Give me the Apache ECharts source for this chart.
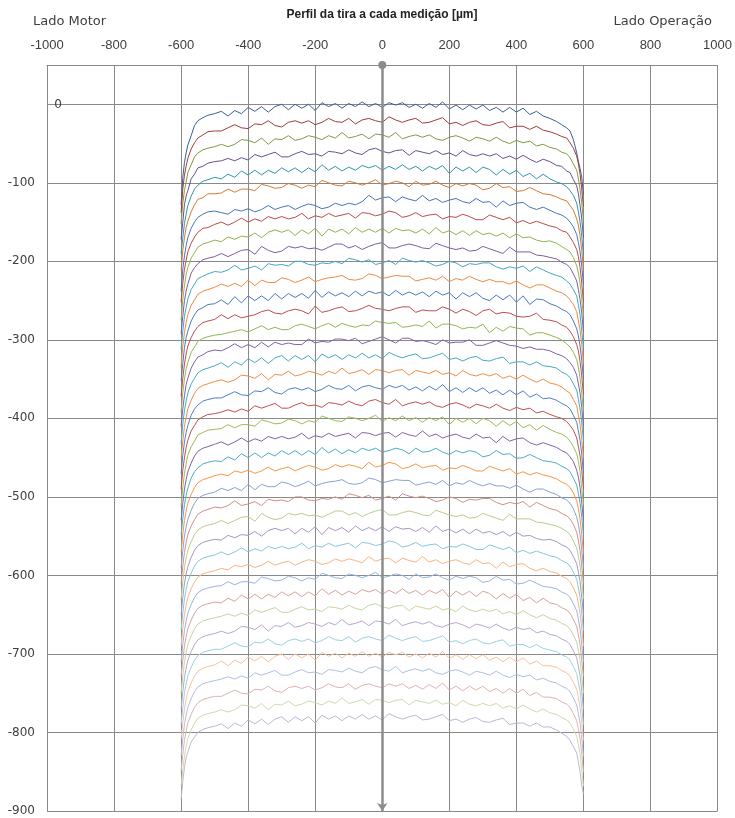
<!DOCTYPE html>
<html>
<head>
<meta charset="utf-8">
<script src="https://cdn.jsdelivr.net/npm/echarts/dist/echarts.min.js"></script>
<style>html,body{margin:0;padding:0;background:#fff;}#chart{width:735px;height:818px;}</style>
</head>
<body>
<div id="chart"></div>
<script>
// x positions across the strip width (µm), shared by every measurement profile
const xPositions = [-600,-595,-590,-585,-580,-570,-560,-550,-535,-520,-500,
-480,-460,-440,-420,-400,-380,-360,-340,-320,-300,-280,-260,-240,-220,-200,-180,-160,-140,-120,-100,-80,-60,-40,-20,0,20,40,60,80,100,120,140,160,180,200,220,240,260,280,300,320,340,360,380,400,420,440,460,480,
500,520,535,550,560,570,580,585,590,595,600];

const xTickLabels = [-1000,-800,-600,-400,-200,0,200,400,600,800,1000];
const yTickLabels = [0,-100,-200,-300,-400,-500,-600,-700,-800,-900];

const p00 = [-128,-93,-74,-62,-52,-40,-27,-21,-17,-14,-12, -9,-15,-8,-12,-4,-9,-3,-10,-3,0,-7,0,-5,0,-8,2,-3,1,-5,1,-3,3,-3,1,-4,2,-1,2,-4,0,-5,1,-4,3,-6,-1,-7,-1,-6,-1,-8,-4,-10,-4,-10,-5,-13,-9,-15, -18,-22,-26,-30,-34,-45,-62,-73,-82,-93,-115];
const p01 = [-138,-108,-90,-79,-69,-57,-49,-43,-39,-35,-34, -34,-30,-26,-30,-31,-25,-26,-21,-27,-29,-23,-21,-24,-21,-26,-23,-18,-22,-23,-18,-25,-20,-18,-21,-23,-16,-20,-23,-20,-18,-24,-23,-20,-17,-25,-23,-27,-23,-21,-26,-27,-24,-22,-30,-28,-28,-32,-28,-33, -35,-38,-41,-43,-49,-56,-66,-76,-89,-108,-130];
const p02 = [-152,-126,-110,-99,-87,-77,-67,-62,-58,-56,-54, -51,-54,-51,-45,-46,-49,-43,-51,-44,-45,-40,-46,-44,-40,-42,-45,-40,-43,-36,-43,-41,-38,-44,-38,-39,-42,-36,-44,-41,-39,-42,-39,-44,-46,-42,-40,-43,-47,-42,-44,-47,-42,-47,-50,-46,-49,-47,-53,-51, -55,-57,-61,-63,-68,-76,-84,-95,-109,-126,-148];
const p03 = [-172,-150,-128,-117,-110,-95,-89,-81,-79,-75,-73, -72,-69,-72,-68,-71,-64,-67,-64,-61,-67,-67,-63,-60,-64,-63,-66,-60,-61,-63,-58,-62,-64,-58,-56,-60,-62,-59,-58,-65,-59,-61,-63,-59,-64,-62,-66,-59,-64,-66,-63,-66,-63,-69,-66,-70,-65,-70,-74,-70, -73,-78,-79,-85,-87,-96,-104,-114,-129,-146,-170];
const p04 = [-190,-170,-152,-140,-129,-117,-108,-103,-98,-96,-93, -95,-89,-93,-85,-90,-84,-90,-84,-88,-81,-86,-81,-87,-81,-86,-77,-84,-79,-85,-80,-84,-78,-81,-78,-84,-79,-83,-77,-83,-79,-85,-79,-83,-78,-88,-80,-85,-80,-87,-80,-83,-90,-83,-89,-84,-92,-88,-95,-89, -95,-99,-101,-105,-110,-116,-126,-137,-150,-168,-192];
const p05 = [-212,-186,-170,-157,-149,-137,-128,-121,-119,-114,-114, -113,-108,-112,-108,-108,-110,-102,-104,-107,-106,-101,-103,-107,-103,-105,-97,-100,-103,-104,-98,-100,-103,-100,-96,-103,-101,-98,-100,-105,-98,-103,-102,-98,-103,-106,-101,-104,-101,-103,-109,-107,-101,-106,-105,-111,-110,-106,-110,-114, -115,-118,-121,-123,-129,-135,-146,-154,-168,-186,-210];
const p06 = [-238,-210,-193,-180,-170,-158,-150,-144,-140,-137,-136, -138,-140,-134,-136,-133,-137,-134,-129,-134,-131,-129,-134,-130,-127,-129,-133,-131,-126,-129,-126,-128,-124,-116,-122,-119,-118,-124,-118,-121,-123,-116,-123,-120,-125,-122,-120,-124,-126,-120,-125,-124,-131,-123,-129,-126,-125,-131,-134,-131, -135,-139,-141,-145,-150,-156,-166,-176,-188,-206,-230];
const p07 = [-252,-228,-210,-199,-188,-177,-169,-163,-158,-157,-153, -150,-154,-150,-145,-150,-146,-149,-143,-146,-143,-146,-144,-139,-146,-142,-144,-139,-143,-141,-139,-145,-138,-139,-142,-140,-136,-138,-144,-142,-138,-143,-141,-140,-146,-143,-144,-140,-143,-147,-147,-141,-144,-147,-144,-151,-148,-152,-149,-152, -155,-157,-161,-163,-169,-176,-185,-194,-208,-228,-252];
const p08 = [-275,-249,-231,-217,-208,-196,-189,-182,-178,-176,-173, -175,-169,-172,-168,-169,-164,-170,-163,-160,-163,-160,-167,-160,-165,-158,-168,-159,-163,-159,-165,-157,-163,-159,-163,-158,-164,-158,-161,-160,-164,-159,-165,-157,-164,-161,-166,-161,-167,-161,-166,-164,-168,-164,-170,-165,-170,-169,-173,-175, -174,-177,-181,-185,-188,-195,-206,-215,-228,-248,-270];
const p09 = [-292,-270,-250,-238,-229,-215,-208,-203,-198,-196,-194, -190,-194,-190,-186,-185,-191,-181,-186,-189,-187,-181,-183,-181,-184,-183,-186,-182,-178,-178,-183,-180,-185,-181,-178,-176,-183,-183,-180,-178,-180,-183,-184,-177,-180,-183,-185,-183,-187,-186,-181,-184,-187,-190,-182,-188,-188,-188,-192,-193, -195,-197,-201,-204,-208,-216,-225,-236,-249,-266,-290];
const p10 = [-312,-289,-270,-259,-248,-236,-229,-222,-219,-216,-213, -214,-211,-205,-211,-209,-206,-211,-203,-205,-204,-206,-200,-200,-204,-205,-202,-203,-200,-203,-196,-198,-201,-198,-204,-202,-199,-204,-196,-199,-201,-199,-202,-206,-204,-200,-202,-207,-203,-204,-202,-202,-207,-210,-207,-209,-206,-213,-207,-211, -215,-218,-220,-225,-229,-236,-244,-256,-268,-289,-310];
const p11 = [-335,-308,-291,-278,-268,-256,-249,-242,-238,-236,-233, -229,-232,-228,-232,-224,-231,-224,-227,-227,-221,-223,-227,-224,-220,-226,-223,-221,-220,-218,-223,-224,-222,-216,-218,-222,-220,-218,-219,-219,-225,-223,-221,-224,-219,-226,-222,-224,-219,-223,-226,-223,-226,-226,-229,-225,-230,-234,-230,-230, -234,-238,-240,-244,-249,-255,-264,-276,-288,-306,-330];
const p12 = [-352,-330,-310,-297,-289,-276,-268,-262,-259,-255,-254, -249,-255,-245,-253,-244,-250,-244,-250,-241,-248,-241,-246,-241,-247,-237,-246,-239,-244,-240,-245,-238,-244,-238,-241,-239,-244,-237,-243,-239,-243,-239,-245,-238,-243,-240,-248,-240,-245,-240,-247,-250,-243,-249,-243,-252,-244,-255,-248,-249, -254,-257,-261,-264,-268,-276,-286,-295,-308,-326,-350];
const p13 = [-372,-349,-331,-318,-308,-297,-289,-283,-278,-276,-274, -268,-273,-268,-272,-270,-268,-264,-262,-266,-267,-263,-261,-263,-267,-257,-265,-263,-260,-258,-264,-263,-260,-256,-260,-261,-263,-260,-258,-258,-265,-262,-263,-263,-258,-261,-266,-261,-264,-269,-263,-261,-267,-265,-266,-270,-271,-270,-266,-274, -275,-277,-281,-284,-289,-296,-306,-314,-328,-346,-370];
const p14 = [-392,-367,-350,-337,-329,-316,-309,-302,-298,-296,-294, -293,-291,-289,-287,-290,-286,-282,-287,-284,-287,-287,-282,-280,-283,-286,-282,-279,-284,-279,-282,-284,-281,-282,-276,-278,-279,-278,-284,-283,-281,-283,-276,-285,-280,-280,-282,-286,-284,-285,-280,-291,-284,-289,-283,-285,-286,-294,-291,-291, -294,-297,-300,-305,-309,-316,-325,-335,-349,-368,-390];
const p15 = [-410,-388,-371,-357,-349,-336,-328,-322,-319,-315,-313, -314,-310,-305,-310,-306,-310,-303,-309,-303,-306,-304,-306,-306,-299,-304,-302,-303,-299,-299,-301,-298,-305,-302,-299,-296,-300,-304,-298,-298,-302,-301,-303,-306,-300,-304,-303,-303,-300,-307,-307,-304,-301,-304,-307,-308,-311,-309,-312,-312, -314,-318,-320,-324,-329,-335,-345,-356,-368,-386,-410];
const p16 = [-432,-407,-390,-378,-368,-356,-349,-342,-338,-336,-333, -329,-335,-328,-332,-324,-329,-323,-330,-323,-320,-327,-320,-325,-320,-328,-318,-323,-319,-325,-319,-323,-317,-323,-319,-324,-316,-320,-323,-320,-318,-324,-323,-320,-317,-325,-323,-327,-323,-321,-326,-327,-324,-322,-330,-328,-328,-332,-328,-333, -334,-336,-341,-344,-348,-356,-364,-376,-388,-406,-428];
const p17 = [-450,-429,-410,-399,-388,-377,-368,-362,-358,-356,-353, -351,-354,-351,-345,-346,-349,-343,-351,-344,-345,-340,-346,-344,-340,-342,-345,-340,-343,-336,-343,-341,-338,-344,-338,-339,-342,-339,-338,-345,-339,-341,-343,-339,-344,-342,-346,-339,-344,-346,-343,-346,-343,-349,-346,-350,-345,-350,-354,-350, -355,-357,-360,-365,-368,-376,-384,-396,-408,-427,-450];
const p18 = [-470,-447,-430,-418,-409,-396,-388,-383,-378,-376,-374, -374,-370,-366,-370,-371,-365,-366,-361,-367,-369,-363,-361,-364,-361,-366,-363,-358,-362,-363,-358,-365,-360,-358,-361,-363,-358,-361,-358,-364,-360,-365,-359,-364,-357,-366,-361,-367,-361,-366,-361,-368,-364,-370,-364,-370,-365,-373,-369,-375, -374,-377,-381,-384,-388,-396,-405,-416,-428,-446,-470];
const p19 = [-490,-466,-450,-437,-428,-416,-409,-402,-398,-395,-394, -392,-389,-392,-388,-391,-384,-387,-384,-381,-387,-387,-383,-380,-384,-383,-386,-380,-381,-383,-378,-382,-384,-378,-376,-380,-382,-376,-384,-381,-379,-382,-379,-384,-386,-382,-380,-383,-387,-382,-384,-387,-382,-387,-390,-386,-389,-387,-393,-391, -395,-398,-400,-404,-409,-415,-425,-436,-448,-466,-490];
const p20 = [-512,-488,-470,-458,-447,-436,-429,-421,-418,-415,-414, -413,-408,-412,-408,-408,-410,-402,-404,-407,-406,-401,-403,-407,-403,-405,-397,-400,-403,-404,-398,-400,-403,-400,-396,-404,-399,-403,-397,-403,-399,-405,-399,-403,-398,-408,-400,-405,-400,-407,-400,-403,-410,-403,-409,-404,-412,-408,-415,-409, -414,-418,-420,-424,-429,-436,-445,-455,-468,-489,-510];
const p21 = [-530,-508,-490,-478,-468,-457,-448,-442,-438,-436,-433, -430,-434,-430,-425,-430,-426,-429,-423,-426,-423,-426,-424,-419,-426,-422,-424,-419,-423,-421,-419,-425,-418,-419,-422,-419,-418,-424,-418,-421,-423,-416,-423,-420,-425,-422,-420,-424,-426,-420,-425,-424,-431,-423,-429,-426,-425,-431,-434,-431, -434,-437,-441,-444,-449,-455,-466,-475,-488,-508,-530];
const p22 = [-548,-528,-510,-498,-489,-476,-468,-463,-458,-456,-454, -455,-449,-453,-445,-450,-444,-450,-444,-448,-441,-446,-441,-447,-441,-446,-437,-444,-439,-445,-440,-444,-438,-441,-438,-443,-441,-438,-440,-445,-438,-443,-442,-438,-443,-446,-441,-444,-441,-443,-449,-447,-441,-446,-445,-451,-450,-446,-450,-454, -455,-457,-461,-464,-468,-476,-485,-496,-508,-526,-548];
const p23 = [-570,-548,-530,-518,-508,-497,-488,-482,-478,-476,-473, -471,-473,-467,-469,-466,-470,-467,-462,-467,-464,-462,-467,-463,-460,-462,-466,-464,-459,-462,-459,-461,-464,-456,-462,-460,-456,-458,-464,-462,-458,-463,-461,-460,-466,-463,-464,-460,-463,-467,-467,-461,-464,-467,-464,-471,-468,-472,-469,-472, -474,-477,-481,-484,-488,-495,-505,-515,-528,-548,-572];
const p24 = [-590,-568,-550,-538,-529,-517,-508,-502,-498,-496,-494, -489,-492,-488,-492,-484,-491,-484,-487,-487,-481,-483,-487,-484,-480,-486,-483,-481,-480,-478,-483,-484,-482,-476,-478,-482,-480,-478,-479,-479,-485,-483,-481,-484,-479,-486,-482,-484,-479,-483,-486,-483,-486,-486,-489,-485,-490,-494,-490,-490, -494,-497,-501,-504,-508,-515,-526,-535,-548,-568,-590];
const p25 = [-610,-588,-571,-558,-548,-537,-529,-522,-518,-516,-513, -514,-511,-505,-511,-509,-506,-511,-503,-505,-504,-506,-500,-500,-504,-505,-502,-503,-500,-503,-496,-498,-501,-498,-504,-502,-499,-504,-496,-499,-501,-499,-502,-506,-504,-500,-502,-507,-503,-504,-502,-502,-507,-510,-507,-509,-506,-513,-507,-511, -515,-517,-521,-524,-528,-535,-545,-556,-568,-588,-610];
const p26 = [-630,-608,-590,-578,-568,-557,-548,-542,-538,-536,-534, -530,-534,-530,-526,-525,-531,-521,-526,-529,-527,-521,-523,-521,-524,-523,-526,-522,-518,-518,-523,-520,-525,-521,-518,-516,-523,-523,-520,-518,-520,-523,-524,-517,-520,-523,-525,-523,-527,-526,-521,-524,-527,-530,-522,-528,-528,-528,-532,-533, -535,-537,-540,-544,-548,-556,-565,-576,-588,-607,-630];
const p27 = [-650,-628,-610,-598,-589,-577,-568,-562,-558,-556,-554, -555,-549,-552,-548,-549,-544,-550,-543,-540,-543,-540,-547,-540,-545,-538,-548,-539,-543,-539,-545,-537,-543,-539,-543,-538,-544,-538,-541,-540,-544,-539,-545,-537,-544,-541,-546,-541,-547,-541,-546,-544,-548,-544,-550,-545,-550,-549,-553,-555, -554,-557,-561,-564,-568,-576,-585,-596,-608,-628,-650];
const p28 = [-670,-648,-630,-618,-608,-597,-588,-582,-578,-576,-574, -570,-574,-570,-565,-570,-566,-569,-563,-566,-563,-566,-564,-559,-566,-562,-564,-559,-563,-561,-559,-565,-558,-559,-562,-560,-556,-558,-564,-562,-558,-563,-561,-560,-566,-563,-564,-560,-563,-567,-567,-561,-564,-567,-564,-571,-568,-572,-569,-572, -575,-577,-581,-584,-588,-596,-605,-616,-628,-648,-670];
const p29 = [-690,-668,-650,-638,-628,-617,-608,-602,-598,-596,-594, -591,-593,-587,-589,-586,-590,-587,-582,-587,-584,-582,-587,-583,-580,-582,-586,-584,-579,-582,-579,-581,-584,-576,-582,-579,-578,-584,-578,-581,-583,-576,-583,-580,-585,-582,-580,-584,-586,-580,-585,-584,-591,-583,-589,-586,-585,-591,-594,-591, -595,-597,-601,-604,-608,-616,-625,-636,-648,-668,-690];
const p30 = [-710,-688,-670,-658,-648,-637,-628,-622,-618,-616,-614, -613,-608,-612,-608,-608,-610,-602,-604,-607,-606,-601,-603,-607,-603,-605,-597,-600,-603,-604,-598,-600,-603,-600,-596,-603,-601,-598,-600,-605,-598,-603,-602,-598,-603,-606,-601,-604,-601,-603,-609,-607,-601,-606,-605,-611,-610,-606,-610,-614, -615,-617,-621,-624,-628,-636,-645,-656,-668,-688,-710];
const p31 = [-728,-708,-690,-678,-668,-657,-648,-642,-638,-636,-634, -635,-629,-633,-625,-630,-624,-630,-624,-628,-621,-626,-621,-627,-621,-626,-617,-624,-619,-625,-620,-624,-618,-621,-618,-624,-619,-623,-617,-623,-619,-625,-619,-623,-618,-628,-620,-625,-620,-627,-620,-623,-630,-623,-629,-624,-632,-628,-635,-629, -635,-637,-641,-644,-648,-656,-665,-676,-688,-708,-728];
const p32 = [-750,-728,-710,-698,-688,-677,-668,-662,-658,-656,-654, -652,-649,-652,-648,-651,-644,-647,-644,-641,-647,-647,-643,-640,-644,-643,-646,-640,-641,-643,-638,-642,-644,-638,-636,-640,-642,-639,-638,-645,-639,-641,-643,-639,-644,-642,-646,-639,-644,-646,-643,-646,-643,-649,-646,-650,-645,-650,-654,-650, -655,-657,-661,-664,-668,-676,-685,-696,-708,-728,-750];
const p33 = [-770,-748,-730,-718,-708,-697,-688,-682,-678,-676,-674, -671,-674,-671,-665,-666,-669,-663,-671,-664,-665,-660,-666,-664,-660,-662,-665,-660,-663,-656,-663,-661,-658,-664,-658,-659,-662,-656,-664,-661,-659,-662,-659,-664,-666,-662,-660,-663,-667,-662,-664,-667,-662,-667,-670,-666,-669,-667,-673,-671, -675,-677,-681,-684,-688,-696,-705,-716,-728,-748,-770];
const p34 = [-790,-768,-750,-738,-728,-717,-708,-702,-698,-696,-694, -694,-690,-686,-690,-691,-685,-686,-681,-687,-689,-683,-681,-684,-681,-686,-683,-678,-682,-683,-678,-685,-680,-678,-681,-683,-676,-680,-683,-680,-678,-684,-683,-680,-677,-685,-683,-687,-683,-681,-686,-687,-684,-682,-690,-688,-688,-692,-688,-693, -695,-697,-701,-704,-708,-716,-725,-736,-748,-768,-790];
const p35 = [-808,-788,-770,-758,-748,-737,-728,-722,-718,-716,-714, -709,-715,-708,-712,-704,-709,-703,-710,-703,-700,-707,-700,-705,-700,-708,-698,-703,-699,-705,-699,-703,-697,-703,-699,-704,-698,-701,-698,-704,-700,-705,-699,-704,-697,-706,-701,-707,-701,-706,-701,-708,-704,-710,-704,-710,-705,-713,-709,-715, -715,-717,-721,-724,-728,-736,-745,-756,-768,-788,-810];
const p36 = [-830,-808,-790,-778,-768,-757,-748,-742,-738,-736,-734, -732,-729,-732,-728,-731,-724,-727,-724,-721,-727,-727,-723,-720,-724,-723,-726,-720,-721,-723,-718,-722,-724,-718,-716,-720,-722,-716,-724,-721,-719,-722,-719,-724,-726,-722,-720,-723,-727,-722,-724,-727,-722,-727,-730,-726,-729,-727,-733,-731, -735,-737,-741,-744,-748,-756,-765,-776,-788,-808,-830];
const p37 = [-850,-828,-810,-798,-788,-777,-768,-762,-758,-756,-754, -754,-750,-746,-750,-751,-745,-746,-741,-747,-749,-743,-741,-744,-741,-746,-743,-738,-742,-743,-738,-745,-740,-738,-741,-743,-738,-741,-738,-744,-740,-745,-739,-744,-737,-746,-741,-747,-741,-746,-741,-748,-744,-750,-744,-750,-745,-753,-749,-755, -755,-757,-761,-764,-768,-776,-785,-796,-808,-828,-850];
const p38 = [-868,-848,-830,-818,-808,-797,-788,-782,-778,-776,-774, -771,-774,-771,-765,-766,-769,-763,-771,-764,-765,-760,-766,-764,-760,-762,-765,-760,-763,-756,-763,-761,-758,-764,-758,-759,-762,-759,-758,-765,-759,-761,-763,-759,-764,-762,-766,-759,-764,-766,-763,-766,-763,-769,-766,-770,-765,-770,-774,-770, -775,-777,-781,-784,-788,-796,-805,-816,-828,-848,-868];
const p39 = [-885,-862,-845,-832,-825,-812,-806,-800,-796,-794,-792, -789,-795,-788,-792,-784,-789,-783,-790,-783,-780,-787,-780,-785,-780,-788,-778,-783,-779,-785,-779,-783,-777,-783,-779,-784,-776,-780,-783,-780,-778,-784,-783,-780,-777,-785,-783,-787,-783,-781,-786,-787,-784,-782,-790,-788,-788,-792,-788,-793, -793,-797,-801,-805,-810,-818,-826,-838,-850,-868,-878];

const profiles = [p00,p01,p02,p03,p04,p05,p06,p07,p08,p09,p10,p11,p12,p13,p14,p15,p16,p17,p18,p19,
                  p20,p21,p22,p23,p24,p25,p26,p27,p28,p29,p30,p31,p32,p33,p34,p35,p36,p37,p38,p39];

// styling: line colours per measurement
const lineColors = [
 '#3A5F9A','#A23B3B','#7F9A45','#6A5090','#2F94AE','#D47A33',
 '#4773B9','#B94B48','#8FB14F','#7C5EA2','#42A6C3','#EE8A3E',
 '#4A78C0','#BD4D4A','#93B651','#7F61A5','#45AAC6','#F28D40',
 '#4F7FC6','#C0504D','#9BBB59','#8064A2','#4BACC6','#F79646',
 '#88A2D4','#D08E8C','#B5CE8D','#A797C4','#87C7DA','#F8B385',
 '#9DB2DC','#D9A2A0','#C2D6A0','#B6A9CD','#9DD0E0','#F9C19C',
 '#AEBFE2','#DFB2B1','#CBDCAD','#BFB5D3'];

const gridColor = '#898989';
const labelColor = '#404040';
const chart = echarts.init(document.getElementById('chart'), null, {renderer: 'canvas'});

const series = profiles.map((ys, i) => ({
  type: 'line',
  name: 'm' + (i + 1),
  yAxisIndex: 0,
  data: xPositions.map((x, j) => [x, ys[j]]),
  showSymbol: false,
  symbol: 'none',
  smooth: false,
  lineStyle: { width: 1, color: lineColors[i % lineColors.length] },
  itemStyle: { color: lineColors[i % lineColors.length] },
  silent: true,
  z: 2
}));

chart.setOption({
  animation: false,
  backgroundColor: '#ffffff',
  grid: { left: 47, right: 17, top: 65, bottom: 7 },
  graphic: [
    { id: 'title', type: 'text', x: 382, y: 15, style: { text: 'Perfil da tira a cada medição [µm]', font: 'bold 12px "Liberation Sans Narrow", "Liberation Sans", sans-serif', fill: '#222', align: 'center', verticalAlign: 'middle' } },
    { id: 'lm', type: 'text', x: 33, y: 22, style: { text: 'Lado Motor', font: '13px "DejaVu Sans", sans-serif', fill: labelColor, align: 'left', verticalAlign: 'middle' } },
    { id: 'lo', type: 'text', x: 712, y: 22, style: { text: 'Lado Operação', font: '13px "DejaVu Sans", sans-serif', fill: labelColor, align: 'right', verticalAlign: 'middle' } }
  ],
  xAxis: {
    type: 'value', position: 'top',
    min: xTickLabels[0], max: xTickLabels[xTickLabels.length - 1], interval: 200,
    axisLine: { show: true, onZero: false, lineStyle: { color: gridColor, width: 1 } },
    axisTick: { show: false },
    axisLabel: { color: labelColor, fontSize: 13, fontFamily: '"Liberation Sans Narrow", "Liberation Sans", sans-serif', margin: 13,
                 formatter: v => xTickLabels.includes(v) ? String(v) : '' },
    splitLine: { show: true, lineStyle: { color: gridColor, width: 1 } }
  },
  yAxis: [
    {
      type: 'value', min: yTickLabels[yTickLabels.length - 1], max: 50, interval: 100,
      axisLine: { show: false, onZero: false },
      axisTick: { show: false },
      axisLabel: { color: labelColor, fontSize: 12, fontFamily: '"DejaVu Sans", sans-serif', margin: 12,
                   formatter: v => (v !== 0 && yTickLabels.includes(v)) ? String(v) : '' },
      splitLine: { show: true, lineStyle: { color: gridColor, width: 1 } }
    },
    {
      type: 'value', min: yTickLabels[yTickLabels.length - 1], max: 50, interval: 100, position: 'left',
      axisLine: { show: true, onZero: true, symbol: ['arrow', 'circle'], symbolSize: [8, 8],
                  lineStyle: { color: '#8c8c8c', width: 2.5 } },
      axisTick: { show: false },
      axisLabel: { show: false },
      splitLine: { show: false },
      z: 10
    }
  ],
  series: series
});

// the "0" tick label sits inside the plot area in the original; place it at the scale's 0 row
const zeroY = chart.convertToPixel({ yAxisIndex: 0 }, 0);
chart.setOption({
  graphic: [
    { id: 'zeroLabel', type: 'text', x: 58, y: zeroY + 1, z: 20,
      style: { text: '0', font: '12px "DejaVu Sans", sans-serif', fill: labelColor, align: 'center', verticalAlign: 'middle' } }
  ]
});
</script>
</body>
</html>
